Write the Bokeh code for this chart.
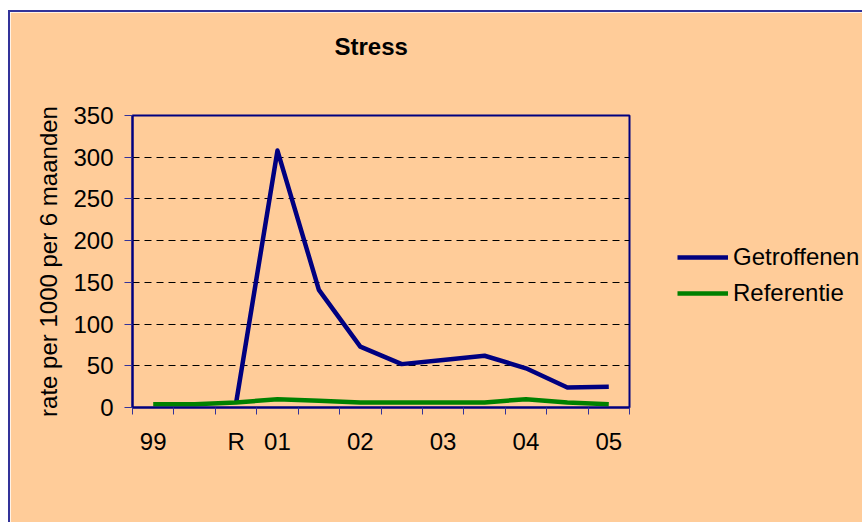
import math
from bokeh.plotting import figure
from bokeh.models import Range1d, FixedTicker, Legend, LegendItem, ColumnDataSource, Title
from bokeh.embed import file_html
from bokeh.resources import INLINE

# ---- data ----
categories = ["99", "", "R", "01", "", "02", "", "03", "", "04", "", "05"]
getroffenen = [math.nan, math.nan, 5, 308, 141, 73, 52, 57, 62, 47, 24, 25]
referentie = [4, 4, 6, 10, 8, 6, 6, 6, 6, 10, 6, 4]
y_ticks = [0, 50, 100, 150, 200, 250, 300, 350]
title_text = "Stress"
y_label = "rate per 1000 per 6 maanden"

FONT = "Liberation Sans"
FS = "24px"
PEACH = "#FFCC99"
NAVY = "#000080"

xs = list(range(len(categories)))
src = ColumnDataSource(dict(x=xs, g=getroffenen, r=referentie))

p = figure(frame_width=497, frame_height=292, output_backend="svg", toolbar_location=None,
           x_range=Range1d(-0.5, len(categories) - 0.5), y_range=Range1d(0, 350),
           min_border_left=122, min_border_right=233, min_border_top=103, min_border_bottom=115,
           background_fill_color=PEACH, border_fill_color=PEACH,
           title=None,
           styles={"margin-left": "8px", "margin-top": "10px",
                   "border-left": "2px solid #333399",
                   "border-top": "2px solid #333399"})

p.outline_line_color = NAVY
p.outline_line_width = 2

# y axis
p.yaxis.ticker = FixedTicker(ticks=y_ticks)
p.yaxis.major_tick_in = 0
p.yaxis.major_tick_out = 8
p.yaxis.minor_tick_line_color = None
p.yaxis.major_tick_line_color = "#333399"
p.yaxis.axis_line_color = NAVY
p.yaxis.axis_line_width = 2
p.yaxis.major_label_text_font = FONT
p.yaxis.major_label_text_font_size = FS
p.yaxis.major_label_text_color = "black"
p.yaxis.major_label_standoff = 11
p.yaxis.axis_label = y_label
p.yaxis.axis_label_text_font = FONT
p.yaxis.axis_label_text_font_size = FS
p.yaxis.axis_label_text_font_style = "normal"
p.yaxis.axis_label_text_color = "black"
p.yaxis.axis_label_standoff = 8

# x axis: labels at category centres, tick marks at category boundaries
label_idx = [i for i, c in enumerate(categories) if c]
p.xaxis.ticker = FixedTicker(ticks=label_idx,
                             minor_ticks=[i - 0.5 for i in range(len(categories) + 1)])
p.xaxis.major_label_overrides = {i: categories[i] for i in label_idx}
p.xaxis.major_tick_line_color = None
p.xaxis.major_tick_in = 0
p.xaxis.major_tick_out = 7
p.xaxis.minor_tick_in = 0
p.xaxis.minor_tick_out = 7
p.xaxis.minor_tick_line_color = "#333399"
p.xaxis.axis_line_color = NAVY
p.xaxis.axis_line_width = 2
p.xaxis.major_label_text_font = FONT
p.xaxis.major_label_text_font_size = FS
p.xaxis.major_label_text_color = "black"
p.xaxis.major_label_standoff = 13

p.xgrid.grid_line_color = None
p.ygrid.ticker = FixedTicker(ticks=y_ticks[1:-1])
p.ygrid.grid_line_color = "black"
p.ygrid.grid_line_dash = "7 5"
p.ygrid.grid_line_width = 1

r1 = p.line("x", "g", source=src, line_color=NAVY, line_width=4.5, line_join="round")
r2 = p.line("x", "r", source=src, line_color="#008000", line_width=4.5, line_join="round")

legend = Legend(items=[LegendItem(label="Getroffenen", renderers=[r1]),
                       LegendItem(label="Referentie", renderers=[r2])],
                location=(48, 96), orientation="vertical",
                glyph_width=51, glyph_height=36, label_standoff=5, spacing=0,
                padding=0, margin=0, border_line_color=None, background_fill_alpha=0,
                label_text_font=FONT, label_text_font_size=FS, label_text_color="black",
                label_height=36)
p.add_layout(legend, "right")

title = Title(text=title_text + "\n\n", align="left", offset=202, vertical_align="top",
              text_font=FONT, text_font_size=FS, text_font_style="bold",
              text_color="black", standoff=-1)
p.add_layout(title, "above")

open("out.html", "w").write(file_html(p, INLINE))
